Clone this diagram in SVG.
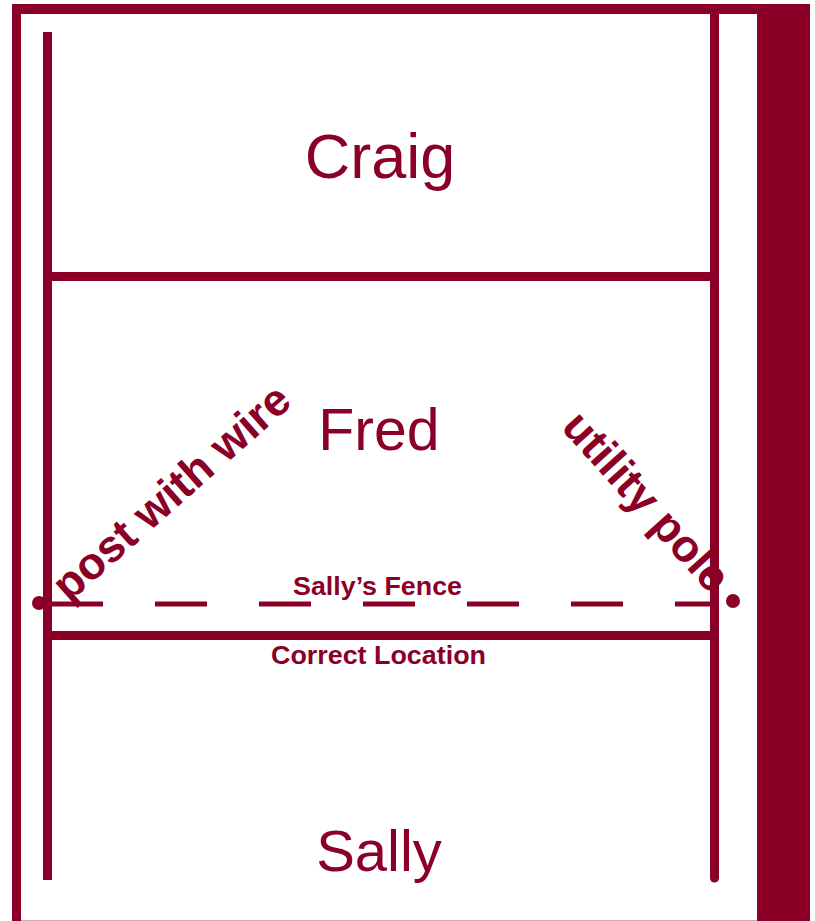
<svg xmlns="http://www.w3.org/2000/svg" width="815" height="921" viewBox="0 0 815 921">
  <style>
    .ln { stroke: #8a0027; fill: none; }
    .big { font-family: "Liberation Sans", Arial, sans-serif; fill: #8a0027; text-anchor: middle; }
    .bold { font-family: "Liberation Sans", Arial, sans-serif; font-weight: bold; fill: #8a0027; }
  </style>
  <rect x="0" y="0" width="815" height="921" fill="#ffffff"/>
  <g id="frame">
    <rect x="12" y="4" width="798" height="10" fill="#8a0027"/>
    <rect x="12" y="4" width="9" height="917" fill="#8a0027"/>
    <rect x="757" y="4" width="53" height="917" fill="#8a0027"/>
    <line x1="21" y1="920.5" x2="757" y2="920.5" stroke="#8a0027" stroke-opacity="0.35" stroke-width="1"/>
  </g>
  <g id="connectors">
    <line class="ln" x1="47.5" y1="32" x2="47.5" y2="880" stroke-width="9"/>
    <line class="ln" x1="714.5" y1="10" x2="714.5" y2="878" stroke-width="9" stroke-linecap="round"/>
    <line class="ln" x1="47" y1="276.5" x2="714" y2="276.5" stroke-width="9"/>
    <line class="ln" x1="47" y1="635.5" x2="714" y2="635.5" stroke-width="9"/>
    <line class="ln" x1="51" y1="604" x2="718" y2="604" stroke-width="5" stroke-dasharray="52 52"/>
    <circle cx="39" cy="603" r="7" fill="#8a0027"/>
    <circle cx="733" cy="601" r="7" fill="#8a0027"/>
  </g>
  <g id="craig">
    <text class="big" x="380" y="178" font-size="63">Craig</text>
  </g>
  <g id="fred">
    <text class="big" x="379" y="450" font-size="59">Fred</text>
  </g>
  <g id="sally">
    <text class="big" x="379" y="871" font-size="58">Sally</text>
  </g>
  <g id="sally-fence">
    <text class="bold" x="293" y="595" font-size="25" textLength="169" lengthAdjust="spacingAndGlyphs">Sally’s Fence</text>
  </g>
  <g id="correct-location">
    <text class="bold" x="271" y="664" font-size="25" textLength="215" lengthAdjust="spacingAndGlyphs">Correct Location</text>
  </g>
  <g id="post-with-wire">
    <text class="bold" font-size="45" transform="translate(69 603) rotate(-41.5)">post with wire</text>
  </g>
  <g id="utility-pole">
    <text class="bold" font-size="45" transform="translate(560 428) rotate(48)">utility pole</text>
  </g>
</svg>
